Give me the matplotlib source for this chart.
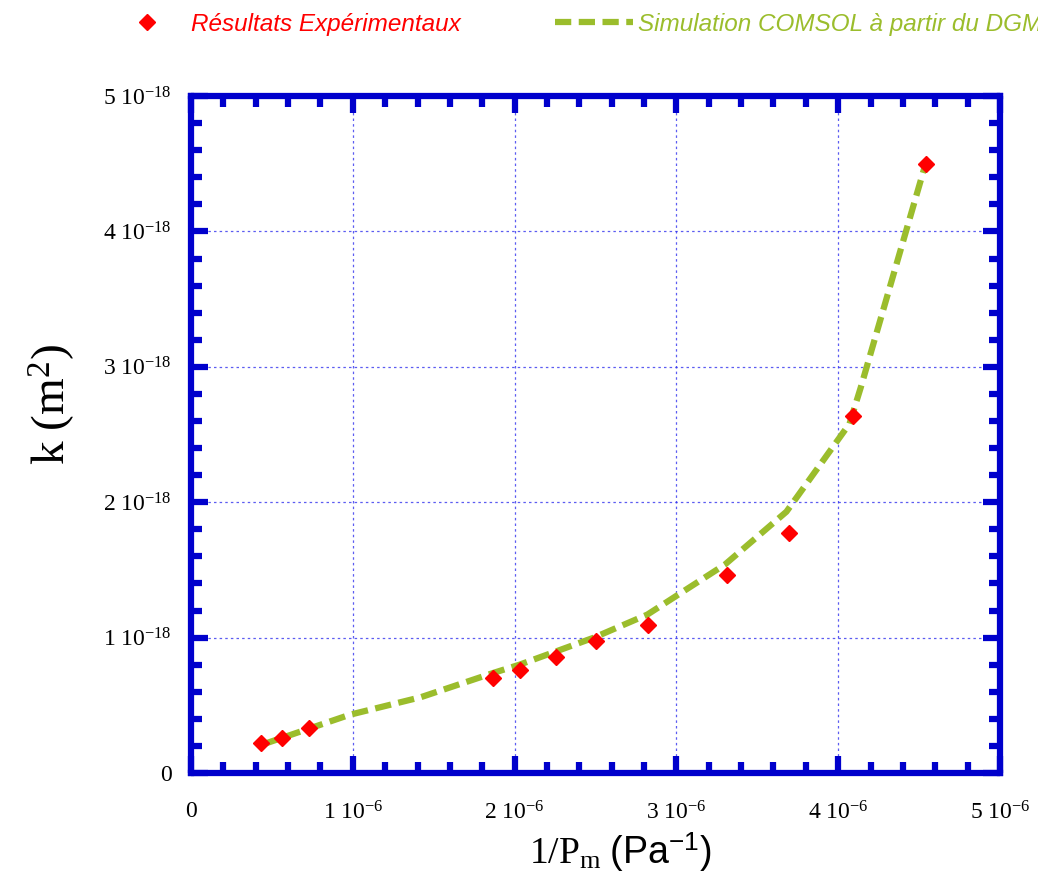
import numpy as np
import matplotlib
matplotlib.use('Agg')
import matplotlib.pyplot as plt
from matplotlib.ticker import MultipleLocator, FixedLocator

plt.rcParams['mathtext.fontset'] = 'custom'
plt.rcParams['mathtext.rm'] = 'Liberation Serif'
plt.rcParams['mathtext.sf'] = 'Liberation Sans'
plt.rcParams['mathtext.it'] = 'Liberation Serif:italic'

# experimental points (1/Pm in Pa^-1, k in m2)
x_exp = [0.433e-6, 0.562e-6, 0.729e-6, 1.866e-6, 2.033e-6, 2.256e-6, 2.503e-6,
         2.824e-6, 3.313e-6, 3.696e-6, 4.09e-6, 4.543e-6]
k_exp = [0.22e-18, 0.258e-18, 0.332e-18, 0.70e-18, 0.76e-18, 0.857e-18, 0.975e-18,
         1.093e-18, 1.46e-18, 1.77e-18, 2.64e-18, 4.50e-18]

# COMSOL / DGM simulation
x_sim = [0.44e-6, 0.98e-6, 1.42e-6, 1.87e-6, 2.03e-6, 2.49e-6, 2.82e-6, 3.30e-6,
         3.68e-6, 3.83e-6, 4.07e-6, 4.14e-6, 4.54e-6]
k_sim = [0.21e-18, 0.43e-18, 0.56e-18, 0.74e-18, 0.80e-18, 1.00e-18, 1.17e-18, 1.54e-18,
         1.93e-18, 2.18e-18, 2.58e-18, 2.85e-18, 4.50e-18]

x_ticks = [0, 1e-6, 2e-6, 3e-6, 4e-6, 5e-6]
x_ticklabels = ['0', r'$\mathrm{1\ 10^{-6}}$', r'$\mathrm{2\ 10^{-6}}$', r'$\mathrm{3\ 10^{-6}}$',
                r'$\mathrm{4\ 10^{-6}}$', r'$\mathrm{5\ 10^{-6}}$']
y_ticks = [0, 1e-18, 2e-18, 3e-18, 4e-18, 5e-18]
y_ticklabels = ['0', r'$\mathrm{1\ 10^{-18}}$', r'$\mathrm{2\ 10^{-18}}$', r'$\mathrm{3\ 10^{-18}}$',
                r'$\mathrm{4\ 10^{-18}}$', r'$\mathrm{5\ 10^{-18}}$']

blue = '#0000CC'
green = '#9BBD2C'

fig = plt.figure(figsize=(10.38, 8.94), dpi=100)
ax = fig.add_axes([0.184, 0.1353, 0.7794, 0.7573])

sim_line, = ax.plot(x_sim, k_sim, color=green, lw=4.5, ls=(0, (2.6, 1.2)),
                    label='Simulation COMSOL à partir du DGM', zorder=3)
exp_pts, = ax.plot(x_exp, k_exp, 'D', color='#FF0000', ms=8, mec='#FF0000',
                   label='Résultats Expérimentaux', zorder=4)

ax.set_xlim(0, 5e-6)
ax.set_ylim(0, 5e-18)
ax.xaxis.set_major_locator(FixedLocator(x_ticks))
ax.yaxis.set_major_locator(FixedLocator(y_ticks))
ax.xaxis.set_minor_locator(MultipleLocator(0.2e-6))
ax.yaxis.set_minor_locator(MultipleLocator(0.2e-18))
ax.set_xticklabels(x_ticklabels, fontsize=17, family='Liberation Serif')
ax.set_yticklabels(y_ticklabels, fontsize=17, family='Liberation Serif')

ax.grid(True, which='major', color='#3333EE', lw=0.9, ls=(0, (2, 2.5)), alpha=0.8)

for s in ax.spines.values():
    s.set_color(blue)
    s.set_linewidth(4.5)
ax.tick_params(which='both', direction='in', top=True, right=True, color=blue, width=4.5)
ax.tick_params(which='major', length=12)
ax.tick_params(axis='x', which='major', pad=20)
ax.tick_params(axis='y', which='major', pad=14)
ax.tick_params(which='minor', length=8)

ax.set_ylabel(r'$\mathrm{k\ (m^2)}$', fontsize=34)
ax.yaxis.set_label_coords(-0.141, 0.545)
ax.set_xlabel(r'$\mathrm{1/P_m}\ \mathsf{(Pa}^{\mathsf{-1}}\mathsf{)}$', fontsize=27)
ax.xaxis.set_label_coords(0.53, -0.085)

leg = fig.legend(handles=[exp_pts, sim_line], loc='center left', bbox_to_anchor=(0.104, 0.973),
                 ncol=2, frameon=False, handlelength=3.2, columnspacing=3.9, handletextpad=0.2,
                 borderpad=0, borderaxespad=0,
                 prop={'family': 'Liberation Sans', 'style': 'italic', 'size': 17.5})
for txt, c in zip(leg.get_texts(), ['#FF0000', green]):
    txt.set_color(c)

fig.savefig('out.png', dpi=100)
